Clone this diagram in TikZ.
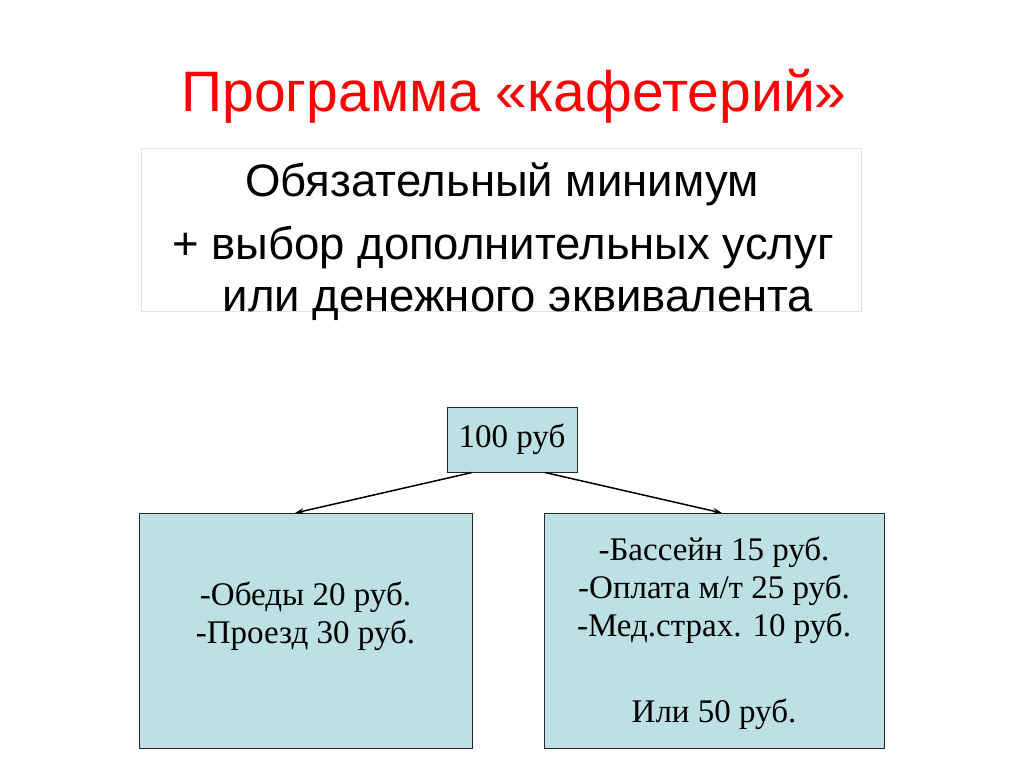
\documentclass[tikz,border=0pt]{standalone}
\usepackage{fontspec}
\setmainfont{Liberation Serif}
\newfontfamily\arialfont{Liberation Sans}
\usetikzlibrary{arrows.meta}
\definecolor{boxfill}{RGB}{188,224,228}
\definecolor{frameline}{RGB}{214,230,234}
\definecolor{titlered}{RGB}{255,0,0}
\tikzset{
  pbox/.style={draw=black!85, line width=1pt, fill=boxfill},
  lbl/.style={font=\fontsize{33}{38}\selectfont, align=center, inner sep=0pt},
  sublbl/.style={font=\arialfont\fontsize{45.5}{50}\selectfont, inner sep=0pt, anchor=center},
  conn/.style={line width=1.5pt, -{Stealth[length=9pt,width=6pt]}}
}
\begin{document}
\begin{tikzpicture}[x=1pt,y=-1pt]
\useasboundingbox (0,0) rectangle (1024,767);
\fill[white] (0,0) rectangle (1024,767);
% title
\node[font=\arialfont\fontsize{57}{60}\selectfont, text=titlered, inner sep=0pt] (title) at (514,96) {Программа «кафетерий»};
% top frame
\node[draw=frameline, line width=1pt, minimum width=720pt, minimum height=162pt, inner sep=0pt] (frame) at (501,230) {};
\node[sublbl] (s1) at (502,184) {Обязательный минимум};
\node[sublbl] (s2) at (503,248) {+ выбор дополнительных услуг};
\node[sublbl] (s3) at (518,304) {или денежного эквивалента};
% boxes
\node[pbox, minimum width=130pt, minimum height=65pt, inner sep=0pt] (top) at (512,439.5) {};
\node[lbl] at (top.center) {100 руб};
\node[pbox, minimum width=333pt, minimum height=235pt, inner sep=0pt] (left) at (305.5,630.5) {};
\node[lbl] at (305.5,616) {-Обеды 20 руб.\\-Проезд 30 руб.};
\node[pbox, minimum width=340pt, minimum height=235pt, inner sep=0pt] (right) at (714,630.5) {};
\node[lbl] at (714,590) {-Бассейн 15 руб.\\-Оплата м/т 25 руб.\\-Мед.страх. 10 руб.};
\node[lbl] at (714,714) {Или 50 руб.};
% connectors
\coordinate (la) at (295,513);
\coordinate (ra) at (722,513);
\draw[conn] ([xshift=-40pt]top.south) -- (la);
\draw[conn] ([xshift=33pt]top.south) -- (ra);
\end{tikzpicture}
\end{document}
